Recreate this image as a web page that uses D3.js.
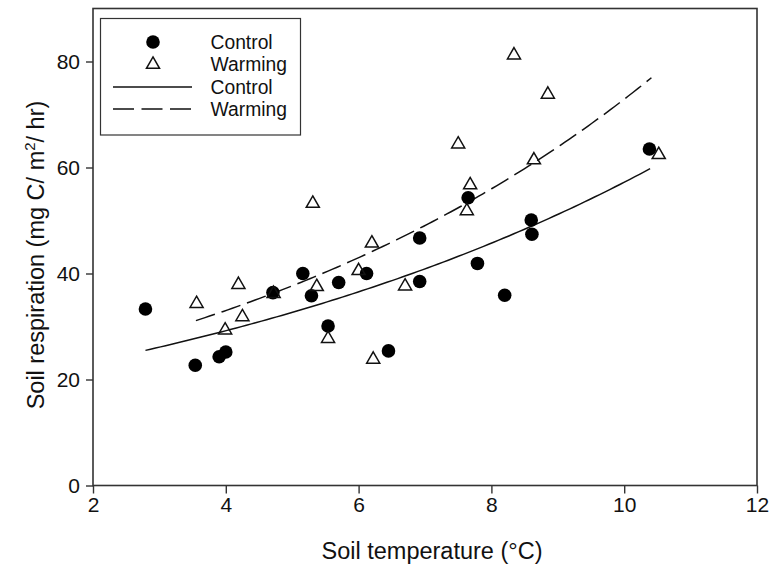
<!DOCTYPE html>
<html>
<head>
<meta charset="utf-8">
<script src="https://cdn.jsdelivr.net/npm/d3@7"></script>
<style>
  html, body { margin: 0; padding: 0; background: #fff; }
  svg { display: block; font-family: "Liberation Sans", Arial, sans-serif; }
</style>
</head>
<body>
<svg id="chart" width="770" height="570"></svg>
<script>
// ---- data ----
const controlTemp = [2.79, 3.54, 3.90, 4.00, 4.71, 5.16, 5.29, 5.54, 5.70, 6.12, 6.45, 6.92, 6.92, 7.65, 7.79, 8.20, 8.60, 8.61, 10.38];
const controlResp = [33.3, 22.7, 24.3, 25.2, 36.4, 40.0, 35.8, 30.1, 38.3, 40.0, 25.4, 46.7, 38.5, 54.3, 41.9, 35.9, 50.1, 47.4, 63.5];
const warmingTemp = [3.56, 3.99, 4.19, 4.25, 4.72, 5.31, 5.37, 5.54, 6.00, 6.20, 6.22, 6.70, 7.50, 7.63, 7.68, 8.34, 8.64, 8.85, 10.52];
const warmingResp = [34.3, 29.3, 37.9, 31.8, 36.2, 53.2, 37.5, 27.7, 40.5, 45.7, 23.8, 37.6, 64.4, 51.8, 56.7, 81.2, 61.4, 73.8, 62.4];
// exponential fits y = a * exp(b * x) over the fitted range
const controlFit = [18.65, 0.1121, 2.79, 10.39];
const warmingFit = [19.47, 0.1320, 3.55, 10.41];
const xTicks = [2, 4, 6, 8, 10, 12];
const yTicks = [0, 20, 40, 60, 80];
const legendLabels = ["Control", "Warming", "Control", "Warming"];

// ---- layout ----
const svg = d3.select("#chart");
const L = 93, R = 757, T = 8.5, B = 485.5;
const x = d3.scaleLinear().domain([2, 12]).range([L, R]);
const y = d3.scaleLinear().domain([0, 90]).range([B, T]);
const ink = "#111";

// frame
svg.append("rect").attr("x", L).attr("y", T).attr("width", R - L).attr("height", B - T)
  .attr("fill", "none").attr("stroke", "#333").attr("stroke-width", 1.6);

// axes
const xAxis = svg.append("g").attr("transform", `translate(0,${B})`)
  .call(d3.axisBottom(x).tickValues(xTicks).tickSize(8).tickPadding(4).tickFormat(d3.format("d")));
const yAxis = svg.append("g").attr("transform", `translate(${L},0)`)
  .call(d3.axisLeft(y).tickValues(yTicks).tickSize(7).tickPadding(6).tickFormat(d3.format("d")));
[xAxis, yAxis].forEach(g => {
  g.select(".domain").remove();
  g.selectAll("line").attr("stroke", "#333").attr("stroke-width", 1.4);
  g.selectAll("text").attr("fill", ink).style("font-size", "21px")
    .style("font-family", '"Liberation Sans", Arial, sans-serif');
});

// axis titles
svg.append("text").attr("x", 432).attr("y", 559).attr("text-anchor", "middle")
  .attr("fill", ink).style("font-size", "23.5px").text("Soil temperature (°C)");
const yt = svg.append("text").attr("transform", `translate(44,255) rotate(-90)`)
  .attr("text-anchor", "middle").attr("fill", ink).style("font-size", "23.5px");
yt.append("tspan").text("Soil respiration (mg C/ m");
yt.append("tspan").attr("dy", -9).style("font-size", "15px").text("2");
yt.append("tspan").attr("dy", 9).text("/ hr)");

// fit curves
function fitPoints(f) {
  const [a, b, x0, x1] = f;
  return d3.range(0, 101).map(i => {
    const xv = x0 + (x1 - x0) * i / 100;
    return [xv, a * Math.exp(b * xv)];
  });
}
const line = d3.line().x(d => x(d[0])).y(d => y(d[1]));
svg.append("path").attr("d", line(fitPoints(controlFit)))
  .attr("fill", "none").attr("stroke", ink).attr("stroke-width", 1.5);
svg.append("path").attr("d", line(fitPoints(warmingFit)))
  .attr("fill", "none").attr("stroke", ink).attr("stroke-width", 1.5)
  .attr("stroke-dasharray", "20,7");

// markers
const tri = d3.symbol().type(d3.symbolTriangle).size(74);
const controlPts = controlTemp.map((t, i) => [t, controlResp[i]]);
const warmingPts = warmingTemp.map((t, i) => [t, warmingResp[i]]);
svg.append("g").selectAll("circle").data(controlPts).join("circle")
  .attr("cx", d => x(d[0])).attr("cy", d => y(d[1])).attr("r", 6.8).attr("fill", "#000");
svg.append("g").selectAll("path").data(warmingPts).join("path")
  .attr("d", tri).attr("transform", d => `translate(${x(d[0])},${y(d[1])})`)
  .attr("fill", "none").attr("stroke", ink).attr("stroke-width", 1.5);

// legend
const lg = svg.append("g");
lg.append("rect").attr("x", 100.5).attr("y", 18.5).attr("width", 200).attr("height", 116.5)
  .attr("fill", "#fff").attr("stroke", "#333").attr("stroke-width", 1.2);
const rowsY = [42, 64.5, 87, 109];
lg.append("circle").attr("cx", 153).attr("cy", rowsY[0]).attr("r", 6.8).attr("fill", "#000");
lg.append("path").attr("d", tri).attr("transform", `translate(153,${rowsY[1]})`)
  .attr("fill", "none").attr("stroke", ink).attr("stroke-width", 1.5);
lg.append("line").attr("x1", 113).attr("x2", 192).attr("y1", rowsY[2]).attr("y2", rowsY[2])
  .attr("stroke", ink).attr("stroke-width", 1.5);
lg.append("line").attr("x1", 113).attr("x2", 192).attr("y1", rowsY[3]).attr("y2", rowsY[3])
  .attr("stroke", ink).attr("stroke-width", 1.5).attr("stroke-dasharray", "21,7.5");
legendLabels.forEach((t, i) => {
  lg.append("text").attr("x", 210.5).attr("y", rowsY[i]).attr("dy", "0.35em")
    .attr("fill", ink).style("font-size", "19.3px").text(t);
});
</script>
</body>
</html>
